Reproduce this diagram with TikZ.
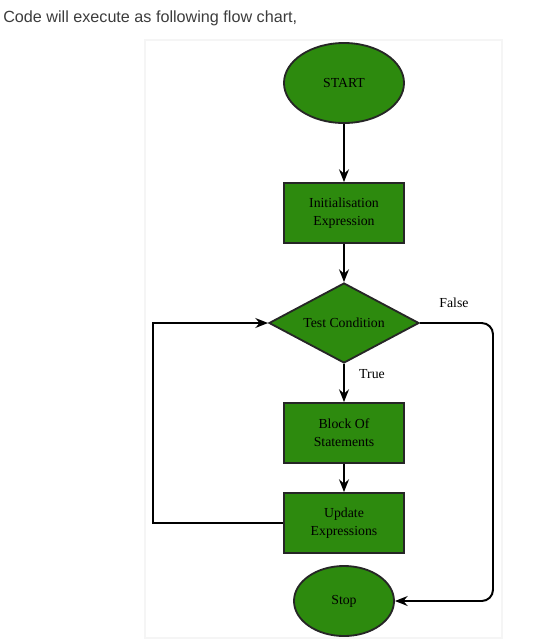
\documentclass[tikz,border=0pt]{standalone}
\usepackage{fontspec}
\setmainfont{Liberation Serif}
\newfontfamily\headfont{Liberation Sans}
\usetikzlibrary{shapes.geometric,arrows.meta}
\definecolor{chartgreen}{RGB}{45,138,14}
\definecolor{headgray}{RGB}{60,60,60}
\tikzset{
  chartnode/.style={draw=black!85,line width=1.3pt,fill=chartgreen,text=black,
    font=\fontsize{9.8}{12.8}\selectfont,align=center,inner sep=0pt},
  procbox/.style={chartnode,rectangle,minimum width=3cm,minimum height=1.5cm},
  terminal/.style={chartnode,ellipse},
  decision/.style={chartnode,diamond,aspect=1.875,minimum width=3.75cm,minimum height=2cm},
  flow/.style={line width=1.4pt,-{Stealth[length=9pt,width=7pt]}},
  flowlabel/.style={font=\fontsize{9.8}{12}\selectfont}
}
\begin{document}
\begin{tikzpicture}[x=0.025cm,y=-0.025cm]
  \useasboundingbox (0,0) rectangle (559,641);
  % panel
  \draw[black!4,line width=1pt] (145,40) rectangle (502,638);
  \node[anchor=west,text=headgray,font=\headfont\fontsize{11.5}{13}\selectfont,inner sep=0pt] (head) at (3,18) {Code will execute as following flow chart,};
  % nodes
  \node[terminal,minimum width=3cm,minimum height=2cm] (start) at (344,83) {START};
  \node[procbox] (init) at (344,213) {Initialisation\\Expression};
  \node[decision] (test) at (344,323) {Test Condition};
  \node[procbox] (block) at (344,433) {Block Of\\Statements};
  \node[procbox] (update) at (344,523) {Update\\Expressions};
  \node[terminal,minimum width=2.5cm,minimum height=1.75cm] (stop) at (344,601) {Stop};
  % connectors
  \draw[flow] (start) -- (init);
  \draw[flow] (init) -- (test);
  \draw[flow] (test) -- (block);
  \draw[flow] (block) -- (update);
  \coordinate (loopcorner) at (153,523);
  \draw[flow] (update.west) -- (loopcorner) |- (test.west);
  \coordinate (falsecorner) at (493,323);
  \draw[flow,rounded corners=8pt] (test.east) -- (falsecorner) |- (stop.east);
  % labels
  \node[flowlabel] (falselbl) at (454,303) {False};
  \node[flowlabel] (truelbl) at (372,374) {True};
\end{tikzpicture}
\end{document}
